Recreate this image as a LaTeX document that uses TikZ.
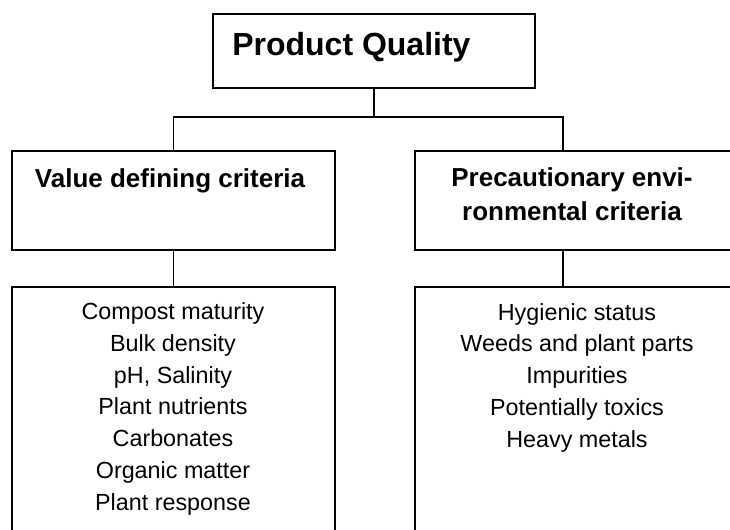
\documentclass[tikz,border=0pt]{standalone}
\usepackage{fontspec}
\setmainfont{Liberation Sans}
\usetikzlibrary{positioning}

\begin{document}
\begin{tikzpicture}[x=0.75pt,y=-0.75pt,
    box/.style={draw, line width=1pt, inner sep=0pt},
    title/.style={font=\bfseries\fontsize{24}{30}\selectfont, inner sep=0pt},
    head/.style={font=\bfseries\fontsize{19.5}{25.5}\selectfont, align=center, inner sep=0pt},
    items/.style={font=\fontsize{17.5}{23.8}\selectfont, align=center, inner sep=0pt},
    link/.style={line width=1pt}]
    \useasboundingbox (0,0) rectangle (730,529);
    \clip (0,0) rectangle (730,529);

    % frames
    \node[box, minimum width=241.5pt, minimum height=55.5pt] (pq) at (374,51) {};
    \node[box, minimum width=242.25pt, minimum height=74.25pt] (vd) at (173.5,200.5) {};
    \node[box, minimum width=240pt, minimum height=74.25pt] (pe) at (575,200.5) {};
    \node[box, minimum width=242.25pt, minimum height=204.75pt] (vdl) at (173.5,423.5) {};
    \node[box, minimum width=240pt, minimum height=204.75pt] (pel) at (575,423.5) {};

    % texts (base = last line)
    \node[title, anchor=base west] (pqtext) at (232,55) {Product Quality};
    \node[head, anchor=base] (vdtext) at (170,187) {Value defining criteria};
    \node[head, anchor=base] (petext) at (572,220) {Precautionary envi-\\ronmental criteria};
    \node[items, anchor=base] (vdltext) at (173,510) {Compost maturity\\Bulk density\\pH, Salinity\\Plant nutrients\\Carbonates\\Organic matter\\Plant response};
    \node[items, anchor=base] (peltext) at (577,447) {Hygienic status\\Weeds and plant parts\\Impurities\\Potentially toxics\\Heavy metals};

    % connectors
    \coordinate (bus) at (374,117);
    \coordinate (pex) at (563,0);
    \draw[link] (pq.south) -- (bus);
    \draw[link] (vd.north) |- (bus) -| (pe.north -| pex);
    \draw[link] (vd.south) -- (vdl.north);
    \draw[link] (pe.south -| pex) -- (pel.north -| pex);
\end{tikzpicture}
\end{document}
